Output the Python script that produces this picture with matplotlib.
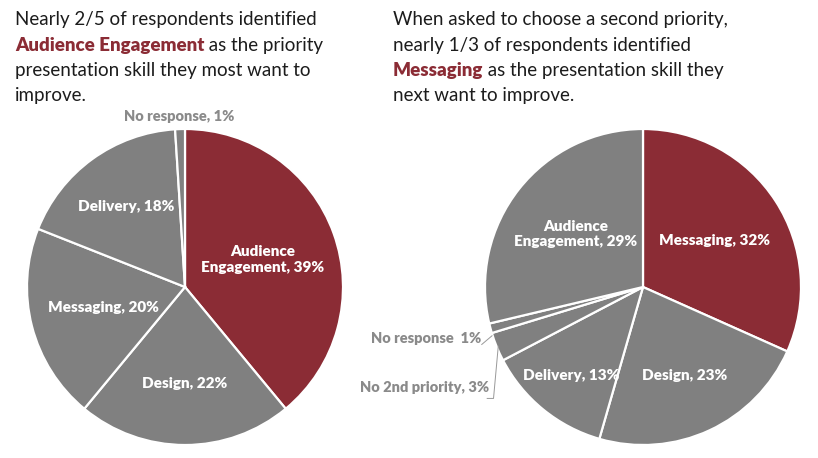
import numpy as np
import matplotlib
matplotlib.use("Agg")
import matplotlib.pyplot as plt

# ---- data ----
left_labels = ["Audience\nEngagement, 39%", "Design, 22%", "Messaging, 20%",
               "Delivery, 18%", "No response, 1%"]
left_values = [39, 22, 20, 18, 1]

right_labels = ["Messaging, 32%", "Design, 23%", "Delivery, 13%",
                "No 2nd priority, 3%", "No response  1%",
                "Audience\nEngagement, 29%"]
right_values = [32, 23, 13, 3, 1, 29]

left_title = [
    [("Nearly 2/5 of respondents identified", False)],
    [("Audience Engagement", True), (" as the priority", False)],
    [("presentation skill they most want to", False)],
    [("improve.", False)],
]
right_title = [
    [("When asked to choose a second priority,", False)],
    [("nearly 1/3 of respondents identified", False)],
    [("Messaging", True), (" as the presentation skill they", False)],
    [("next want to improve.", False)],
]

RED = "#8b2c35"
GREY = "#808080"
LABEL_GREY = "#8a8a8a"
TEXT = "#1c1c1c"
W, H = 818, 458
R = 158
LABEL_FONT = ["Lato", "DejaVu Sans"]
TITLE_FONT = ["Lato", "DejaVu Sans"]

fig = plt.figure(figsize=(W / 100, H / 100), dpi=100)
fig.patch.set_facecolor("white")


def pie_axes(cx, cy):
    return fig.add_axes([(cx - R) / W, (H - cy - R) / H, 2 * R / W, 2 * R / H])


def draw_pie(ax, values, colors):
    wedges, _ = ax.pie(values, colors=colors, startangle=90, counterclock=False,
                       radius=1.0,
                       wedgeprops=dict(edgecolor="white", linewidth=1.6))
    ax.set_xlim(-1, 1)
    ax.set_ylim(-1, 1)
    ax.set_aspect("equal")
    ax.axis("off")
    return wedges


def mid_point(w, r):
    a = np.deg2rad((w.theta1 + w.theta2) / 2)
    return r * np.cos(a), r * np.sin(a)


def inside_label(ax, w, text, r):
    x, y = mid_point(w, r)
    ax.text(x, y, text, ha="center", va="center", color="white",
            fontsize=11, fontweight="heavy", family=LABEL_FONT,
            linespacing=1.25)


# left pie
axl = pie_axes(185, 287)
wl = draw_pie(axl, left_values, [RED, GREY, GREY, GREY, GREY])
left_r = [0.52, 0.61, 0.53, 0.63]
for w, lab, r in zip(wl[:4], left_labels[:4], left_r):
    inside_label(axl, w, lab, r)
x, y = mid_point(wl[4], 1.08)
axl.text(x, y, left_labels[4], ha="center", va="center", color=LABEL_GREY,
         fontsize=10.5, fontweight="heavy", family=LABEL_FONT)

# right pie
axr = pie_axes(643, 287)
wr = draw_pie(axr, right_values, [RED, GREY, GREY, GREY, GREY, GREY])
right_r = {0: 0.54, 1: 0.62, 2: 0.72, 5: 0.54}
for i, r in right_r.items():
    inside_label(axr, wr[i], right_labels[i], r)

# "No response" outside label with short leader
ex, ey = mid_point(wr[4], 0.99)
tx, ty = ex - 0.07, ey - 0.07
axr.text(tx, ty, right_labels[4], ha="right", va="center", color=LABEL_GREY,
         fontsize=10.5, fontweight="heavy", family=LABEL_FONT)
axr.plot([tx + 0.005, ex], [ty - 0.035, ey - 0.05], color="#999999", lw=0.7,
         clip_on=False)

# "No 2nd priority" outside label with bracket leader
ex, ey = mid_point(wr[3], 0.99)
tx, ty = ex - 0.06, ey - 0.26
axr.text(tx, ty, right_labels[3], ha="right", va="center", color=LABEL_GREY,
         fontsize=10.5, fontweight="heavy", family=LABEL_FONT)
axr.plot([tx - 0.01, tx + 0.03, ex], [ty - 0.07, ty - 0.07, ey],
         color="#999999", lw=0.7, clip_on=False)


# titles with a bold red word inline
def draw_title(x0, lines):
    renderer = fig.canvas.get_renderer()
    base = 25
    step = 25.5
    for i, parts in enumerate(lines):
        x = x0
        yb = H - (base + i * step)
        for txt, bold in parts:
            t = fig.text(x / W, yb / H, txt, ha="left", va="baseline",
                         fontsize=13.5, family=TITLE_FONT,
                         fontweight="heavy" if bold else "normal",
                         color=RED if bold else TEXT)
            bb = t.get_window_extent(renderer)
            x = bb.x1


draw_title(15, left_title)
draw_title(393, right_title)

fig.savefig("out.png", dpi=100, facecolor="white")
